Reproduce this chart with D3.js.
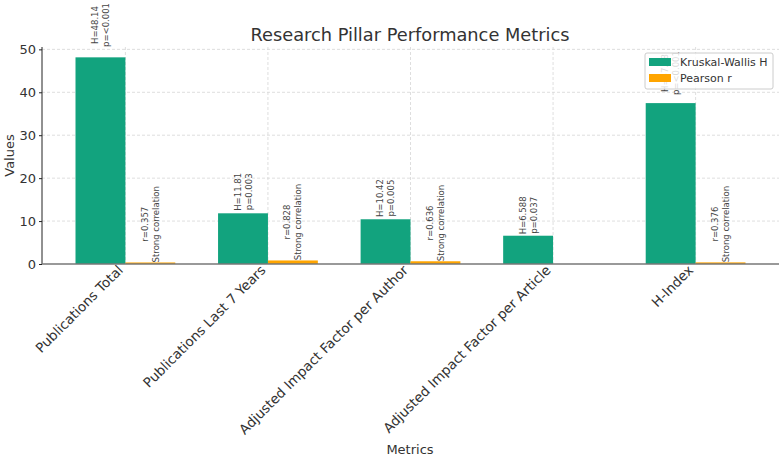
<!DOCTYPE html>
<html>
<head>
<meta charset="utf-8">
<script src="https://cdn.jsdelivr.net/npm/d3@7"></script>
<style>
  body { margin: 0; background: white; }
  text { font-family: "DejaVu Sans", sans-serif; }
</style>
</head>
<body>
<div id="container"></div>
<script>
let w = 782;
let h = 457;

// data
let metrics = ["Publications Total", "Publications Last 7 Years", "Adjusted Impact Factor per Author", "Adjusted Impact Factor per Article", "H-Index"];
let kruskalH = [48.14, 11.81, 10.42, 6.588, 37.48];
let kruskalP = ["<0.001", "0.003", "0.005", "0.037", "<0.001"];
let pearsonR = [0.357, 0.828, 0.636, null, 0.376];
let pearsonNote = ["Strong correlation", "Strong correlation", "Strong correlation", null, "Strong correlation"];
let yTicks = [0, 10, 20, 30, 40, 50];

let green = "#12a37e";
let orange = "#ffa500";

let viz = d3.select("#container").append("svg")
    .attr("width", w)
    .attr("height", h)
    .style("background-color", "white");

let plotLeft = 42, plotRight = 779, plotTop = 47, plotBottom = 264;

// band positions like matplotlib: index -0.585 .. 4.585
let xScale = d3.scaleLinear().domain([-0.585, metrics.length - 1 + 0.585]).range([plotLeft, plotRight]);
let yScale = d3.scaleLinear().domain([0, 50.55]).range([plotBottom, plotTop]);
let barW = 0.35;

// grid
let grid = viz.append("g");
grid.selectAll(".hg").data(yTicks.filter(d => d > 0)).enter().append("line")
    .attr("x1", plotLeft).attr("x2", plotRight)
    .attr("y1", d => yScale(d)).attr("y2", d => yScale(d))
    .attr("stroke", "#d6d6d6").attr("stroke-width", 0.8).attr("stroke-dasharray", "3,2");
grid.selectAll(".vg").data(metrics).enter().append("line")
    .attr("x1", (d, i) => xScale(i)).attr("x2", (d, i) => xScale(i))
    .attr("y1", plotTop).attr("y2", plotBottom)
    .attr("stroke", "#d6d6d6").attr("stroke-width", 0.8).attr("stroke-dasharray", "3,2");

// bars
viz.append("g").selectAll("rect").data(kruskalH).enter().append("rect")
    .attr("x", (d, i) => xScale(i - barW))
    .attr("width", (d, i) => xScale(i) - xScale(i - barW))
    .attr("y", d => yScale(d))
    .attr("height", d => plotBottom - yScale(d))
    .attr("fill", green);

let rData = pearsonR.map((d, i) => ({ v: d, i: i })).filter(d => d.v !== null);
viz.append("g").selectAll("rect").data(rData).enter().append("rect")
    .attr("x", d => xScale(d.i))
    .attr("width", d => xScale(d.i + barW) - xScale(d.i))
    .attr("y", d => yScale(d.v))
    .attr("height", d => plotBottom - yScale(d.v))
    .attr("fill", orange);

// rotated two-line labels, block bottom at value * 1.05
function addLabel(cx, value, lines) {
    let g = viz.append("g")
        .attr("transform", "translate(" + cx + "," + yScale(value * 1.05) + ") rotate(-90)");
    let texts = lines.map((t, k) => g.append("text")
        .attr("y", (k - (lines.length - 1) / 2) * 11)
        .attr("dominant-baseline", "central")
        .attr("text-anchor", "middle")
        .attr("font-size", "8.5px")
        .attr("fill", "#444")
        .text(t));
    let maxLen = d3.max(texts, t => t.node().getComputedTextLength());
    texts.forEach(t => t.attr("x", maxLen / 2));
}
kruskalH.forEach((d, i) => {
    addLabel(xScale(i - barW / 2), d, ["H=" + d, "p=" + kruskalP[i]]);
});
rData.forEach(d => {
    addLabel(xScale(d.i + barW / 2), d.v, ["r=" + d.v, pearsonNote[d.i]]);
});

// axes
let yAxis = d3.axisLeft(yScale).tickValues(yTicks).tickSize(3).tickPadding(3);
let yAxisGroup = viz.append("g").attr("transform", "translate(" + plotLeft + ",0)").call(yAxis);
yAxisGroup.select(".domain").attr("d", "M0," + plotTop + "V" + plotBottom).attr("stroke", "#222");
yAxisGroup.selectAll(".tick line").attr("stroke", "#222");
yAxisGroup.selectAll(".tick text").attr("font-size", "13px").attr("fill", "#333")
    .style("font-family", "DejaVu Sans");

let xAxis = d3.axisBottom(xScale).tickValues(d3.range(metrics.length)).tickFormat(i => metrics[i]).tickSize(0);
let xAxisGroup = viz.append("g").attr("transform", "translate(0," + plotBottom + ")").call(xAxis);
xAxisGroup.select(".domain").attr("d", "M" + plotLeft + ",0H" + plotRight).attr("stroke", "#777").attr("stroke-width", 1.5);
xAxisGroup.selectAll(".tick text")
    .attr("font-size", "13.5px").attr("fill", "#333")
    .style("font-family", "DejaVu Sans")
    .attr("text-anchor", "end")
    .attr("dy", 0)
    .attr("y", 0)
    .attr("transform", "translate(-2,7) rotate(-45)");

// titles
viz.append("text").attr("x", 410).attr("y", 41).attr("text-anchor", "middle")
    .attr("font-size", "17.8px").attr("fill", "#333").text("Research Pillar Performance Metrics");
viz.append("text").attr("x", 410).attr("y", 454).attr("text-anchor", "middle")
    .attr("font-size", "13px").attr("fill", "#333").text("Metrics");
viz.append("text").attr("transform", "translate(14," + ((plotTop + plotBottom) / 2) + ") rotate(-90)")
    .attr("text-anchor", "middle").attr("font-size", "13px").attr("fill", "#333").text("Values");

// legend
let legend = viz.append("g").attr("transform", "translate(645,53)");
legend.append("rect").attr("width", 128).attr("height", 36).attr("rx", 2)
    .attr("fill", "white").attr("fill-opacity", 0.8).attr("stroke", "#ccc");
let legendItems = [["Kruskal-Wallis H", green], ["Pearson r", orange]];
legendItems.forEach((d, k) => {
    legend.append("rect").attr("x", 4).attr("y", 5 + k * 16).attr("width", 22).attr("height", 8).attr("fill", d[1]);
    legend.append("text").attr("x", 35).attr("y", 9 + k * 16).attr("dominant-baseline", "central")
        .attr("font-size", "11px").attr("fill", "#333").text(d[0]);
});
</script>
</body>
</html>
